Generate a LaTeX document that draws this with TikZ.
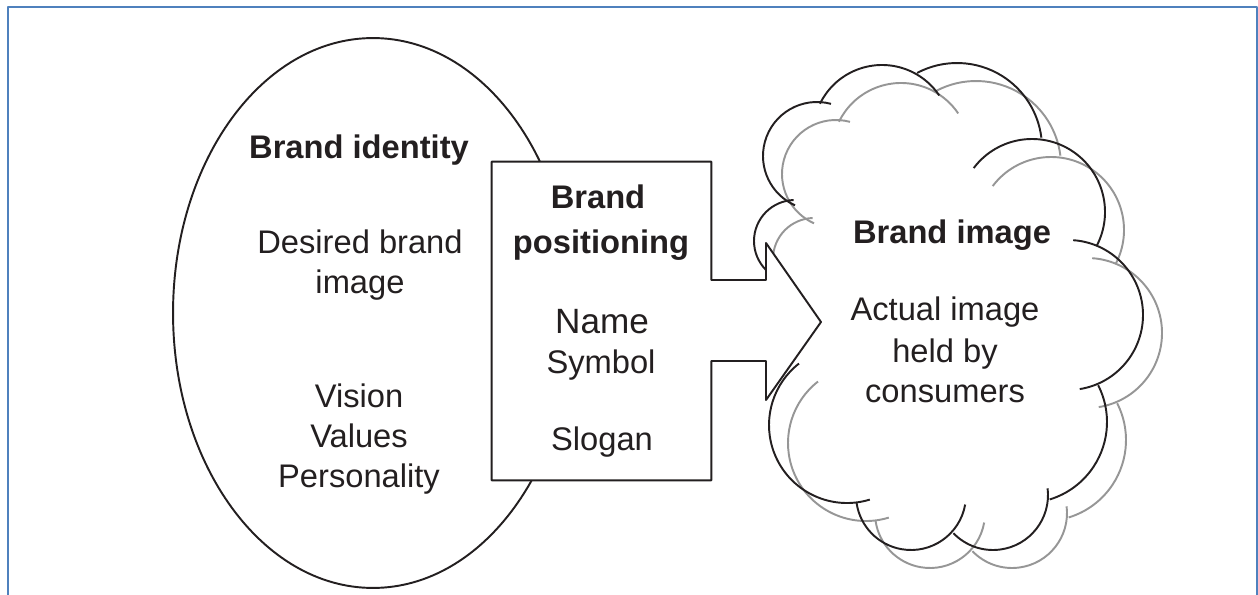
\documentclass[tikz,border=0pt]{standalone}
\usepackage{fontspec}
\setmainfont{Liberation Sans}
\usetikzlibrary{shapes.geometric}

\definecolor{frameblue}{RGB}{79,129,189}
\definecolor{inkgray}{RGB}{35,31,32}
\definecolor{shadowgray}{RGB}{150,150,150}

%-------------------------------------------------------------
% One cloud puff: centre, start angle, end angle, radius
\newcommand{\puff}[4]{\draw (#1) ++(#2:#4) arc[start angle=#2, end angle=#3, radius=#4];}
% Cloud outline
\newcommand{\cloudbumps}{%
  \puff{817,156}{-75}{-246}{54}
  \puff{882,134}{-154}{-34}{69}
  \puff{957,148}{-118}{-7}{85}
  \puff{1032,212}{-143}{27}{73}
  \puff{1068,315}{-86}{81}{75}
  \puff{1026,422}{-27}{73}{81}
  \puff{993,495}{-7}{136}{55}
  \puff{911,495}{10}{172}{55}
  \puff{847,425}{73}{232}{78}
  \puff{795,241}{135}{268}{41}
}

\begin{document}
\begin{tikzpicture}[
  x=0.02cm, y=-0.02cm,
  line join=round,
  shape line/.style={draw=inkgray, line width=1.1pt},
  ttl/.style={anchor=base, text=inkgray, font=\bfseries\fontsize{18.6}{22}\selectfont},
  txt/.style={anchor=base, text=inkgray, font=\fontsize{18.6}{22}\selectfont},
]
\useasboundingbox (0,0) rectangle (1258,595);

% Frame
\draw[frameblue, line width=1.2pt] (8,600) -- (8,7) -- (1257,7) -- (1257,600);

%-------------------------------------------------------------
% Identity ellipse
\node[ellipse, shape line, inner sep=0pt, minimum width=8cm, minimum height=11cm] (identity) at (373,313) {};

% Image cloud: grey shadow, then black outline
\begin{scope}[shift={(19,18)}, color=shadowgray, line width=1.1pt]
  \cloudbumps
\end{scope}
\begin{scope}[color=inkgray, line width=1.1pt]
  \cloudbumps
\end{scope}

% Positioning box with its block arrow
\node[inner sep=0pt, minimum width=4.38cm, minimum height=6.36cm] (pos) at (601.5,321) {};
\coordinate (tip) at (821,322);
\draw[shape line, fill=white] (pos.north west) -- (pos.north east) -- (pos.east |- 0,280)
  -- (766,280) -- (766,243) -- (tip) -- (766,400) -- (766,361)
  -- (pos.east |- 0,361) -- (pos.south east) -- (pos.south west) -- cycle;

%-------------------------------------------------------------
% Texts
\node[ttl] (idT) at (359,158) {Brand identity};
\node[txt] (idD1) at (360,253) {Desired brand};
\node[txt] (idD2) at (360,293) {image};
\node[txt] (idV1) at (359,407) {Vision};
\node[txt] (idV2) at (359,447) {Values};
\node[txt] (idV3) at (359,487) {Personality};

\node[ttl] (posT1) at (598,208) {Brand};
\node[ttl] (posT2) at (601,253) {positioning};
\node[txt, font=\fontsize{20}{24}\selectfont] (posN) at (602,333) {Name};
\node[txt] (posS) at (601,373) {Symbol};
\node[txt] (posG) at (602,450) {Slogan};

\node[ttl] (imgT) at (952,243) {Brand image};
\node[txt] (img1) at (945,320) {Actual image};
\node[txt] (img2) at (945,362) {held by};
\node[txt] (img3) at (945,402) {consumers};

\end{tikzpicture}
\end{document}
